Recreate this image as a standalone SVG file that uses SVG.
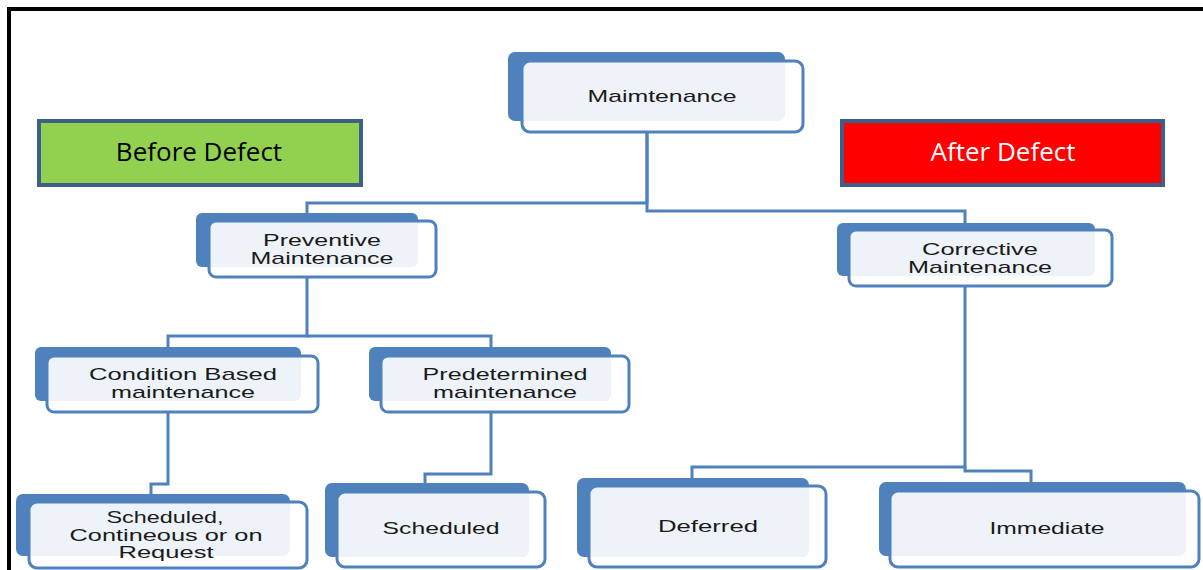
<svg xmlns="http://www.w3.org/2000/svg" width="1203" height="570" viewBox="0 0 1203 570">
<style>
  .back { fill: #4f81bd; }
  .front { fill: #ffffff; fill-opacity: 0.9; stroke: #4f81bd; stroke-width: 3; }
  .t { font-family: "Liberation Sans", Arial, sans-serif; font-size: 17px; fill: #1a1a1a; text-anchor: middle; }
  .conn { fill: none; stroke: #4f81bd; stroke-width: 3; }
  .lbl { stroke: #3d5f8c; stroke-width: 4; }
  .lt { font-family: "Open Sans", "Noto Sans", sans-serif; font-size: 26px; text-anchor: middle; }
</style>
<rect width="1203" height="570" fill="#ffffff"/>
<path d="M9,570 V9 H1203" fill="none" stroke="#000000" stroke-width="4"/>

<g id="connectors">
  <path class="conn" d="M647,133 V203 H307 V215"/>
  <path class="conn" d="M647,133 V211 H965 V225"/>
  <path class="conn" d="M307,278 V336 H168 V349"/>
  <path class="conn" d="M307,336 H491 V349"/>
  <path class="conn" d="M168,413 V484 H151 V496"/>
  <path class="conn" d="M491,413 V474 H425 V485"/>
  <path class="conn" d="M965,287 V467 H692 V480"/>
  <path class="conn" d="M965,467 V471 H1031 V484"/>
</g>

<g id="before-defect">
  <rect class="lbl" x="39" y="121" width="322" height="64" fill="#92d050"/>
  <text class="lt" x="199" y="161" fill="#000000">Before Defect</text>
</g>
<g id="after-defect">
  <rect class="lbl" x="842" y="121" width="321" height="64" fill="#ff0000"/>
  <text class="lt" x="1003" y="161" fill="#ffffff">After Defect</text>
</g>

<g id="maintenance">
  <rect class="back" x="508" y="52" width="277" height="69" rx="7"/>
  <rect class="front" x="522" y="61" width="281" height="71" rx="8"/>
  <text class="t" x="662" y="102" textLength="149" lengthAdjust="spacingAndGlyphs">Maimtenance</text>
</g>

<g id="preventive">
  <rect class="back" x="196" y="213" width="222" height="54" rx="6"/>
  <rect class="front" x="209" y="221" width="227" height="56" rx="7"/>
  <text class="t" x="322" y="246" textLength="118" lengthAdjust="spacingAndGlyphs">Preventive</text>
  <text class="t" x="322" y="264" textLength="143" lengthAdjust="spacingAndGlyphs">Maintenance</text>
</g>

<g id="corrective">
  <rect class="back" x="837" y="223" width="258" height="53" rx="6"/>
  <rect class="front" x="849" y="230" width="263" height="56" rx="7"/>
  <text class="t" x="980" y="255" textLength="116" lengthAdjust="spacingAndGlyphs">Corrective</text>
  <text class="t" x="980" y="273" textLength="144" lengthAdjust="spacingAndGlyphs">Maintenance</text>
</g>

<g id="condition-based">
  <rect class="back" x="35" y="347" width="266" height="54" rx="6"/>
  <rect class="front" x="47" y="356" width="271" height="56" rx="7"/>
  <text class="t" x="183" y="380" textLength="188" lengthAdjust="spacingAndGlyphs">Condition Based</text>
  <text class="t" x="183" y="398" textLength="144" lengthAdjust="spacingAndGlyphs">maintenance</text>
</g>

<g id="predetermined">
  <rect class="back" x="369" y="347" width="242" height="54" rx="6"/>
  <rect class="front" x="381" y="356" width="248" height="56" rx="7"/>
  <text class="t" x="505" y="380" textLength="165" lengthAdjust="spacingAndGlyphs">Predetermined</text>
  <text class="t" x="505" y="398" textLength="144" lengthAdjust="spacingAndGlyphs">maintenance</text>
</g>

<g id="scheduled-continuous">
  <rect class="back" x="16" y="494" width="274" height="62" rx="7"/>
  <rect class="front" x="29" y="502" width="278" height="66" rx="8"/>
  <text class="t" x="165" y="523" textLength="117" lengthAdjust="spacingAndGlyphs">Scheduled,</text>
  <text class="t" x="166" y="541" textLength="193" lengthAdjust="spacingAndGlyphs">Contineous or on</text>
  <text class="t" x="166" y="558" textLength="95" lengthAdjust="spacingAndGlyphs">Request</text>
</g>

<g id="scheduled">
  <rect class="back" x="325" y="483" width="204" height="74" rx="7"/>
  <rect class="front" x="337" y="492" width="208" height="75" rx="8"/>
  <text class="t" x="441" y="534" textLength="117" lengthAdjust="spacingAndGlyphs">Scheduled</text>
</g>

<g id="deferred">
  <rect class="back" x="577" y="478" width="232" height="79" rx="7"/>
  <rect class="front" x="589" y="486" width="237" height="81" rx="8"/>
  <text class="t" x="708" y="532" textLength="100" lengthAdjust="spacingAndGlyphs">Deferred</text>
</g>

<g id="immediate">
  <rect class="back" x="879" y="482" width="307" height="74" rx="7"/>
  <rect class="front" x="890" y="491" width="309" height="76" rx="8"/>
  <text class="t" x="1047" y="534" textLength="115" lengthAdjust="spacingAndGlyphs">Immediate</text>
</g>
</svg>
